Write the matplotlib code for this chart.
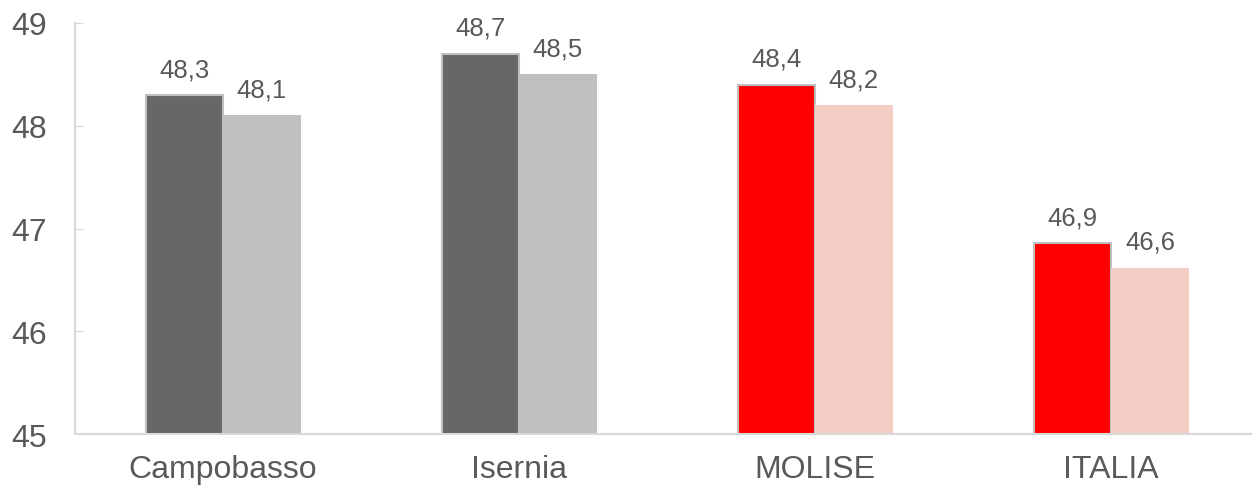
import numpy as np
import matplotlib.pyplot as plt

plt.rcParams['font.family'] = ['Liberation Sans', 'DejaVu Sans']

categories = ['Campobasso', 'Isernia', 'MOLISE', 'ITALIA']
serie_a = [48.3, 48.7, 48.4, 46.86]
serie_b = [48.1, 48.5, 48.2, 46.62]
colori_a = ['#676767', '#676767', '#FF0000', '#FF0000']
colori_b = ['#BFBFBF', '#BFBFBF', '#F4CDC5', '#F4CDC5']

testo = '#595959'
fig = plt.figure(figsize=(12.52, 4.89), dpi=100)
ax = fig.add_axes([0.0600, 0.110, 0.9457, 0.841])

x = np.arange(len(categories))
w = 0.262
ba = ax.bar(x - w / 2, serie_a, w, bottom=0, color=colori_a,
            edgecolor='#BFBFBF', linewidth=1.5, zorder=2)
bb = ax.bar(x + w / 2, serie_b, w, color=colori_b, linewidth=0, zorder=2)

for bars, vals in ((ba, serie_a), (bb, serie_b)):
    for b, v in zip(bars, vals):
        ax.annotate(f'{v:.1f}'.replace('.', ','),
                    (b.get_x() + b.get_width() / 2, v),
                    xytext=(0, 10), textcoords='offset points',
                    ha='center', va='bottom', fontsize=18.5, color=testo)

ax.set_ylim(45, 49)
ax.set_xlim(-0.5, 3.5)
ax.set_yticks([45, 46, 47, 48, 49])
ax.set_xticks(x)
ax.set_xticklabels(categories)
ax.tick_params(axis='y', direction='in', length=6, color='#D9D9D9',
               labelsize=23, labelcolor=testo, pad=20)
ax.tick_params(axis='x', length=0, labelsize=23, labelcolor=testo, pad=14)
for s in ('top', 'right'):
    ax.spines[s].set_visible(False)
for s in ('left', 'bottom'):
    ax.spines[s].set_color('#D9D9D9')
    ax.spines[s].set_linewidth(1.5)

fig.savefig('out.png', dpi=100)
